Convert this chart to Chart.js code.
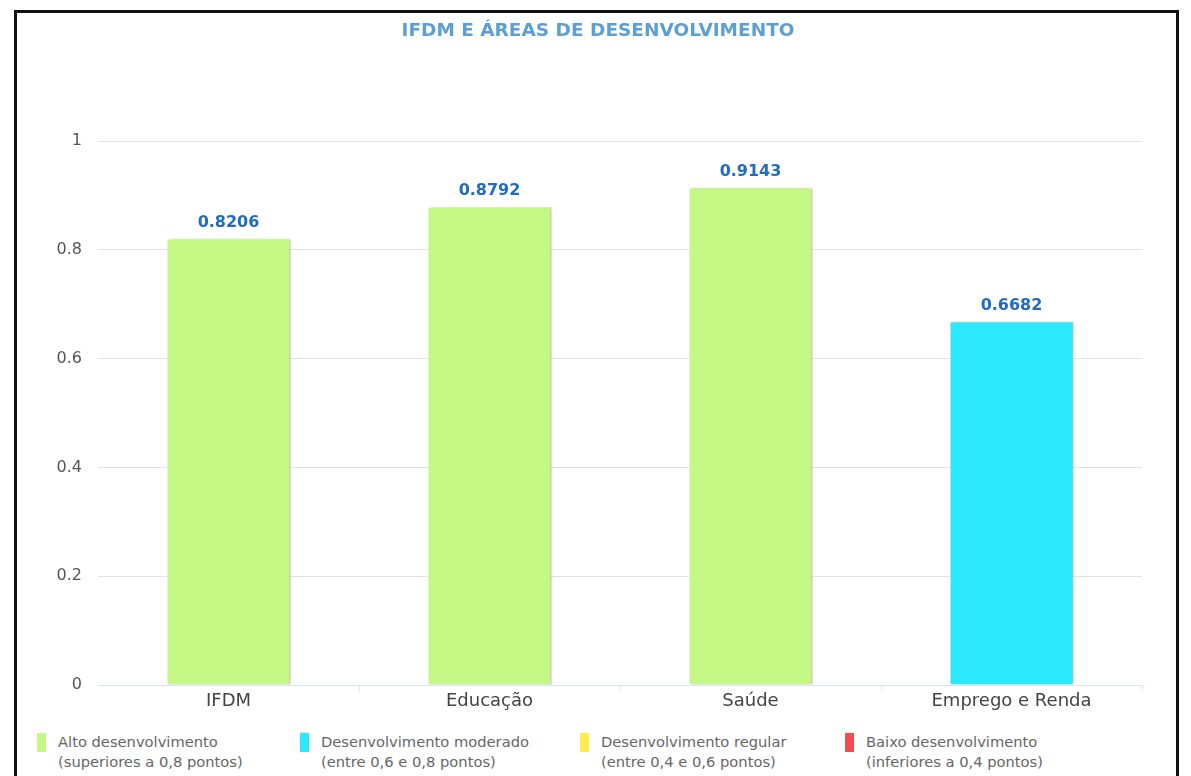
<!DOCTYPE html>
<html>
<head>
<meta charset="utf-8">
<script src="https://cdn.jsdelivr.net/npm/chart.js@4/dist/chart.umd.min.js"></script>
<style>
  html, body { margin: 0; padding: 0; background: #fff; width: 1191px; height: 776px; overflow: hidden; }
  #frame { position: absolute; left: 14px; top: 10px; width: 1165px; height: 800px; border: 3px solid #111; box-sizing: border-box; border-bottom: none; }
  #title { position: absolute; left: 0; top: 19px; width: 1196px; text-align: center; font-family: "DejaVu Sans", sans-serif; font-weight: bold; font-size: 18.5px; line-height: 22px; color: #5b9fd6; }
  #wrap { position: absolute; left: 0; top: 0; width: 1191px; height: 720px; }
  .leg { position: absolute; top: 733px; font-family: "DejaVu Sans", sans-serif; font-size: 14.7px; line-height: 20px; color: #666; }
  .sw { position: absolute; top: 0; width: 9px; height: 19px; }
  .tx { position: absolute; top: -1px; white-space: nowrap; }
</style>
</head>
<body>
<div id="frame"></div>
<div id="wrap"><canvas id="c"></canvas></div>
<div id="title"></div>
<div id="legend"></div>
<script>
const categories = ["IFDM", "Educação", "Saúde", "Emprego e Renda"];
const values = [0.8206, 0.8792, 0.9143, 0.6682];
const barColors = ["#c5f785", "#c5f785", "#c5f785", "#2be8fd"];
const yTicks = [0, 0.2, 0.4, 0.6, 0.8, 1];
const legendLabels = ["Alto desenvolvimento", "Desenvolvimento moderado", "Desenvolvimento regular", "Baixo desenvolvimento"];
const legendRanges = ["(superiores a 0,8 pontos)", "(entre 0,6 e 0,8 pontos)", "(entre 0,4 e 0,6 pontos)", "(inferiores a 0,4 pontos)"];
const legendColors = ["#c5f785", "#2be8fd", "#fcec4c", "#f54c4f"];
const titleText = "IFDM E ÁREAS DE DESENVOLVIMENTO";

const FONT = '"DejaVu Sans", sans-serif';

document.getElementById('title').textContent = titleText;

// HTML legend
const legX = [37, 300, 580, 845];
const legEl = document.getElementById('legend');
legendLabels.forEach((l, i) => {
  const d = document.createElement('div');
  d.className = 'leg';
  d.style.left = legX[i] + 'px';
  d.innerHTML = '<div class="sw" style="left:0;background:' + legendColors[i] + '"></div>' +
    '<div class="tx" style="left:21px">' + l + '<br>' + legendRanges[i] + '</div>';
  legEl.appendChild(d);
});

const shadowPlugin = {
  id: 'barShadow',
  beforeDatasetsDraw(chart) {
    const ctx = chart.ctx;
    ctx.save();
    ctx.shadowColor = 'rgba(0,0,0,0.25)';
    ctx.shadowOffsetX = 3;
    ctx.shadowOffsetY = 0;
    ctx.shadowBlur = 2;
  },
  afterDatasetsDraw(chart) {
    chart.ctx.restore();
  }
};

const labelPlugin = {
  id: 'valueLabels',
  afterDatasetsDraw(chart) {
    const ctx = chart.ctx;
    const meta = chart.getDatasetMeta(0);
    ctx.save();
    ctx.font = 'bold 16px ' + FONT;
    ctx.fillStyle = '#1f6cc0';
    ctx.textAlign = 'center';
    ctx.textBaseline = 'middle';
    meta.data.forEach((el, i) => {
      ctx.fillText(values[i].toFixed(4), el.x, el.y - 16);
    });
    ctx.restore();
  }
};

new Chart(document.getElementById('c'), {
  type: 'bar',
  data: {
    labels: categories,
    datasets: [{
      data: values,
      backgroundColor: barColors,
      borderColor: '#ffffff',
      borderWidth: 1,
      categoryPercentage: 1,
      barPercentage: 0.475
    }]
  },
  plugins: [shadowPlugin, labelPlugin],
  options: {
    responsive: true,
    maintainAspectRatio: false,
    animation: false,
    layout: { padding: { left: 0, right: 49, top: 141, bottom: 0 } },
    plugins: {
      legend: { display: false },
      tooltip: { enabled: false },
      title: { display: false }
    },
    scales: {
      x: {
        offset: true,
        afterFit(scale) { scale.height = 35; },
        grid: {
          offset: true,
          drawOnChartArea: false,
          drawTicks: true,
          tickLength: 6,
          color: (c) => c.index === 0 ? 'rgba(0,0,0,0)' : '#d6e4f5'
        },
        border: { display: true, color: '#d6e4f5', width: 1 },
        ticks: {
          color: '#444',
          padding: 0,
          font: { family: FONT, size: 18 }
        }
      },
      y: {
        min: 0,
        max: 1,
        afterFit(scale) { scale.width = 98; },
        afterBuildTicks(scale) { scale.ticks = yTicks.map(v => ({ value: v })); },
        grid: { color: '#e2e2e2', drawTicks: false, lineWidth: 1 },
        border: { display: false },
        ticks: {
          color: '#555',
          padding: 16,
          font: { family: FONT, size: 16 },
          callback: (v) => String(v)
        }
      }
    }
  }
});
</script>
</body>
</html>
